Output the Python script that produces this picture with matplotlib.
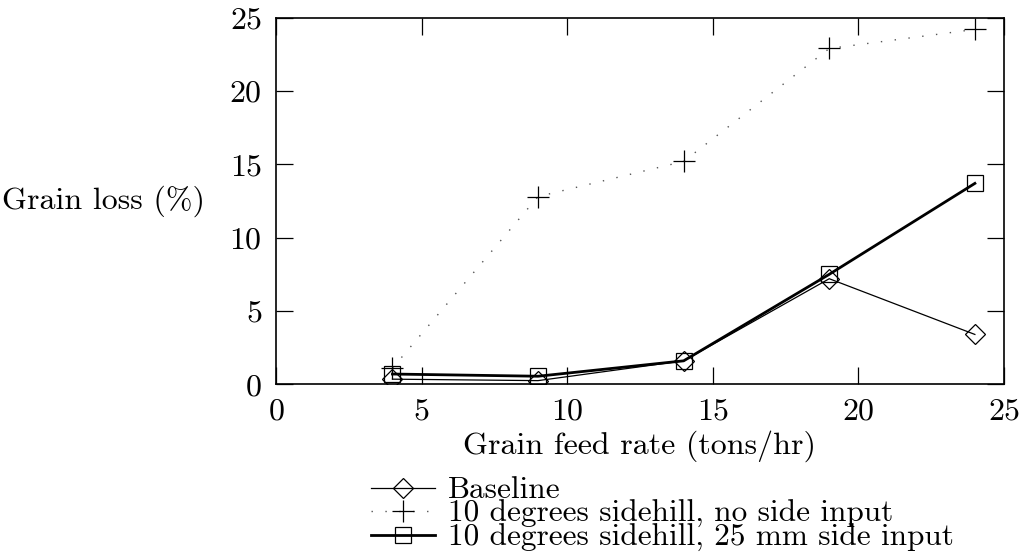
import matplotlib
matplotlib.use('Agg')
import matplotlib.pyplot as plt

# feed rate (tons/hr) and grain loss (%)
feed_rate = [4, 9, 14, 19, 24]
baseline = [0.35, 0.25, 1.6, 7.2, 3.4]
sidehill_no_input = [1.1, 12.8, 15.2, 22.9, 24.2]
sidehill_25mm = [0.7, 0.55, 1.6, 7.5, 13.7]

labels = ['Baseline',
          '10 degrees sidehill, no side input',
          '10 degrees sidehill, 25 mm side input']

plt.rcParams.update({
    'font.family': 'cmr10',
    'mathtext.fontset': 'cm',
    'axes.unicode_minus': False,
    'axes.formatter.use_mathtext': True,
    'font.size': 23,
})

fig = plt.figure(figsize=(10.27, 5.58), dpi=100, facecolor='white')
ax = fig.add_axes([0.2687, 0.3113, 0.7089, 0.6570])

ax.plot(feed_rate, baseline, color='black', linewidth=0.9,
        marker='D', markersize=10.5, markerfacecolor='none',
        markeredgecolor='black', markeredgewidth=0.9, label=labels[0])
ax.plot(feed_rate, sidehill_no_input, color='#555555', linewidth=1.0,
        linestyle=(0, (1, 9)), marker='+', markersize=16,
        markeredgecolor='black', markeredgewidth=0.9, label=labels[1])
ax.plot(feed_rate, sidehill_25mm, color='black', linewidth=2.0,
        marker='s', markersize=12, markerfacecolor='none',
        markeredgecolor='black', markeredgewidth=0.9, label=labels[2])

ax.set_xlim(0, 25)
ax.set_ylim(0, 25)
ax.set_xticks([0, 5, 10, 15, 20, 25])
ax.set_yticks([0, 5, 10, 15, 20, 25])

ax.tick_params(direction='in', length=12, width=0.9, top=True, right=True,
               labelsize=23)
ax.tick_params(axis='x', pad=10)
ax.tick_params(axis='y', pad=10)
for sp in ax.spines.values():
    sp.set_linewidth(1.2)

ax.set_xlabel('Grain feed rate (tons/hr)', fontsize=23, labelpad=3)
ax.set_ylabel('Grain loss (%)', fontsize=23, rotation=0,
              ha='right', va='center')
ax.yaxis.set_label_coords(-0.0975, 0.5)

fig.legend(loc='upper left', bbox_to_anchor=(0.361, 0.146),
           frameon=False, fontsize=22.5, handlelength=2.05,
           handletextpad=0.42, labelspacing=-0.13, borderpad=0,
           borderaxespad=0)

fig.savefig('out.png', dpi=100, facecolor='white')
